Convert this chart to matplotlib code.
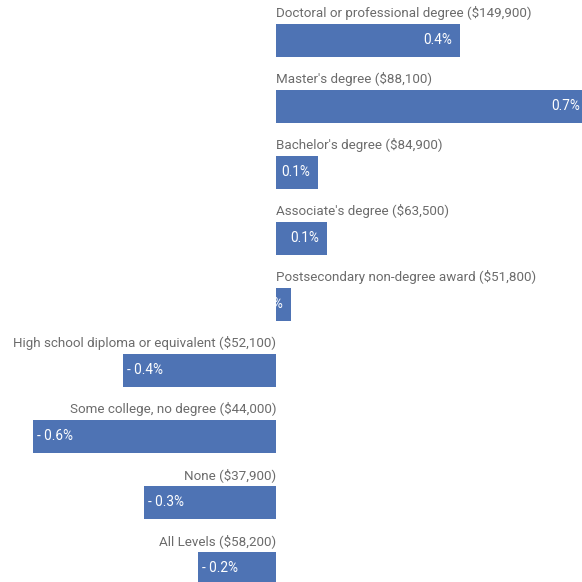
import matplotlib.pyplot as plt

# median earnings change by education level, extra digits kept for bar lengths
levels = ["Doctoral or professional degree", "Master's degree", "Bachelor's degree",
          "Associate's degree", "Postsecondary non-degree award",
          "High school diploma or equivalent", "Some college, no degree",
          "None", "All Levels"]
earnings = ["$149,900", "$88,100", "$84,900", "$63,500", "$51,800",
            "$52,100", "$44,000", "$37,900", "$58,200"]
change = [0.424, 0.72, 0.097, 0.117, 0.035, -0.353, -0.56, -0.305, -0.18]

bar_color = '#4e73b4'
text_color = '#6b6b6b'
plt.rcParams['font.family'] = ['Roboto', 'DejaVu Sans']

fig = plt.figure(figsize=(5.82, 5.82), dpi=100)
ax = fig.add_axes([0, 0, 1, 1])
ypos = list(range(len(levels)))
ax.barh(ypos, change, height=0.5, color=bar_color)

for y, name, pay, v in zip(ypos, levels, earnings, change):
    label = f"{name} ({pay})"
    if v >= 0:
        ax.annotate(label, (0, y - 0.25), xytext=(0, 4), textcoords='offset pixels',
                    ha='left', va='bottom', fontsize=9.6, color=text_color)
        ax.annotate(f"{v:.1f}%", (v, y), xytext=(-8, 0), textcoords='offset pixels',
                    ha='right', va='center', fontsize=9.8, color='white',
                    annotation_clip=False)
    else:
        ax.annotate(label, (0, y - 0.25), xytext=(0, 4), textcoords='offset pixels',
                    ha='right', va='bottom', fontsize=9.6, color=text_color)
        ax.annotate(f"- {abs(v):.1f}%", (v, y), xytext=(4, 0), textcoords='offset pixels',
                    ha='left', va='center', fontsize=9.8, color='white',
                    annotation_clip=False)

ax.set_xlim(-276 / 434, 306 / 434)
ax.set_ylim((582 - 40.5) / 66, -40.5 / 66)
ax.axis('off')
fig.savefig('out.png', dpi=100)
